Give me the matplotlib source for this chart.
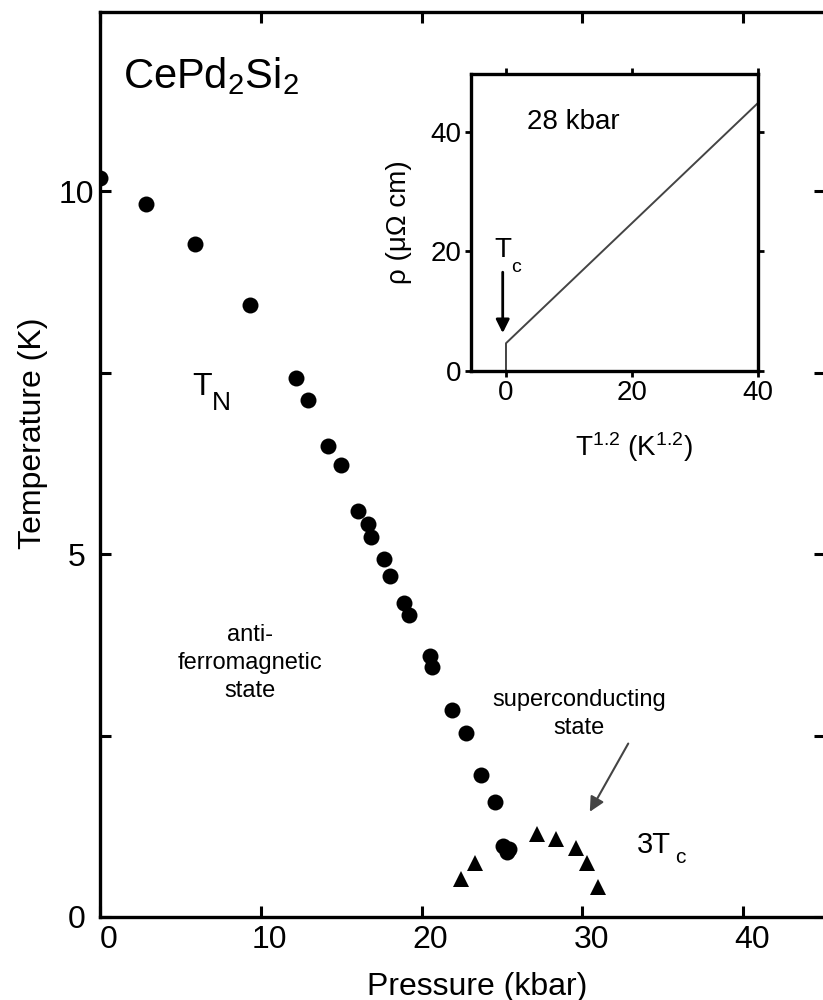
import matplotlib
matplotlib.use('Agg')
import matplotlib.pyplot as plt
import matplotlib.transforms as mtransforms

plt.rcParams['font.family'] = ['Liberation Sans', 'DejaVu Sans']
plt.rcParams['mathtext.default'] = 'regular'

# Neel temperature T_N (circles)
tn_pressure = [0.0, 2.84, 5.90, 9.32, 12.19, 12.96, 14.20, 15.01, 16.04, 16.65, 16.85,
               17.64, 18.03, 18.88, 19.25, 20.54, 20.64, 21.91, 22.75, 23.73, 24.60,
               25.09, 25.47, 25.30]
tn_temp = [10.18, 9.83, 9.28, 8.43, 7.43, 7.13, 6.49, 6.23, 5.60, 5.41, 5.23,
           4.93, 4.70, 4.33, 4.16, 3.59, 3.45, 2.85, 2.54, 1.95, 1.59,
           0.98, 0.94, 0.90]

# 3 x Tc (triangles)
tc_pressure = [22.47, 23.34, 27.19, 28.37, 29.61, 30.27, 31.01]
tc_temp = [0.53, 0.74, 1.14, 1.08, 0.95, 0.74, 0.42]

# inset: resistivity at 28 kbar
inset_t12 = [0.0, 0.0, 40.0]
inset_rho = [0.0, 4.6, 44.8]

main_xticks = [0, 10, 20, 30, 40]
main_yticks = [0, 5, 10]
main_yminor = [2.5, 7.5]
inset_xticks = [0, 20, 40]
inset_yticks = [0, 20, 40]

fig = plt.figure(figsize=(8.23, 10), dpi=100)
ax = fig.add_axes([100 / 823, 0.083, 725 / 823, 0.905])

ax.plot(tn_pressure, tn_temp, 'o', color='black', markersize=11.5, markeredgewidth=0)
ax.plot(tc_pressure, tc_temp, '^', color='black', markersize=11, markeredgewidth=0)

ax.set_xlim(0, 45.1)
ax.set_ylim(0, 12.47)
ax.set_xticks(main_xticks)
ax.set_yticks(main_yticks)
ax.set_yticks(main_yminor, minor=True)
ax.tick_params(which='both', direction='in', length=8, width=2.2,
               top=True, right=True, labelsize=23)
ax.tick_params(axis='x', pad=6)
ax.tick_params(axis='y', pad=17)
for s in ax.spines.values():
    s.set_linewidth(2.4)
for lbl in ax.get_yticklabels():
    lbl.set_horizontalalignment('center')
shift = mtransforms.ScaledTranslation(9 / 100, 0, fig.dpi_scale_trans)
for lbl in ax.get_xticklabels():
    lbl.set_transform(lbl.get_transform() + shift)

fig.text(33 / 823, 1 - 433 / 1000, 'Temperature (K)', rotation=90,
         ha='center', va='center', fontsize=23)
fig.text(477 / 823, 1 - 995 / 1000, 'Pressure (kbar)', ha='center',
         va='baseline', fontsize=23)

# annotations
ax.text(1.43, 11.42, r'CePd$_2$Si$_2$', fontsize=30, va='baseline')
ax.text(5.76, 7.19, 'T', fontsize=23, va='baseline')
ax.text(6.95, 6.98, 'N', fontsize=19, va='baseline')
ax.text(9.3, 3.5, 'anti-\nferromagnetic\nstate', fontsize=17, ha='center',
        va='center', linespacing=1.35)
ax.text(29.8, 2.8, 'superconducting\nstate', fontsize=17, ha='center',
        va='center', linespacing=1.35)
ax.annotate('', xy=(30.47, 1.45), xytext=(32.86, 2.39),
            arrowprops=dict(arrowstyle='-|>', color='#444444', lw=1.5,
                            mutation_scale=22, shrinkA=0, shrinkB=0))
ax.text(33.37, 0.88, '3T', fontsize=21, va='baseline')
ax.text(35.75, 0.75, 'c', fontsize=15, va='baseline')

# inset
ins = fig.add_axes([471 / 823, 1 - 370.7 / 1000, 286.7 / 823, 296.7 / 1000])
ins.plot(inset_t12, inset_rho, color='#444444', lw=1.4)
ins.set_xlim(-5.56, 40)
ins.set_ylim(0, 49.7)
ins.set_xticks(inset_xticks)
ins.set_yticks(inset_yticks)
ins.tick_params(direction='out', length=4, width=2, top=True, right=True,
                labelsize=20, pad=3)
for s in ins.spines.values():
    s.set_linewidth(2.4)
ins.set_xlabel(r'T$^{1.2}$ (K$^{1.2}$)', fontsize=20)
ins.xaxis.set_label_coords(0.57, -0.20)
ins.set_ylabel(r'ρ (μΩ cm)', fontsize=20)
ins.yaxis.set_label_coords(-0.205, 0.5)
ins.text(3.3, 41.7, '28 kbar', fontsize=20, va='center')
ins.text(-1.8, 19.0, 'T', fontsize=20, va='baseline')
ins.text(0.8, 16.6, 'c', fontsize=14, va='baseline')
ins.annotate('', xy=(-0.52, 6.3), xytext=(-0.52, 16.5),
             arrowprops=dict(arrowstyle='-|>', color='black', lw=2,
                             mutation_scale=20, shrinkA=0, shrinkB=0))

fig.savefig('out.png', dpi=100)
